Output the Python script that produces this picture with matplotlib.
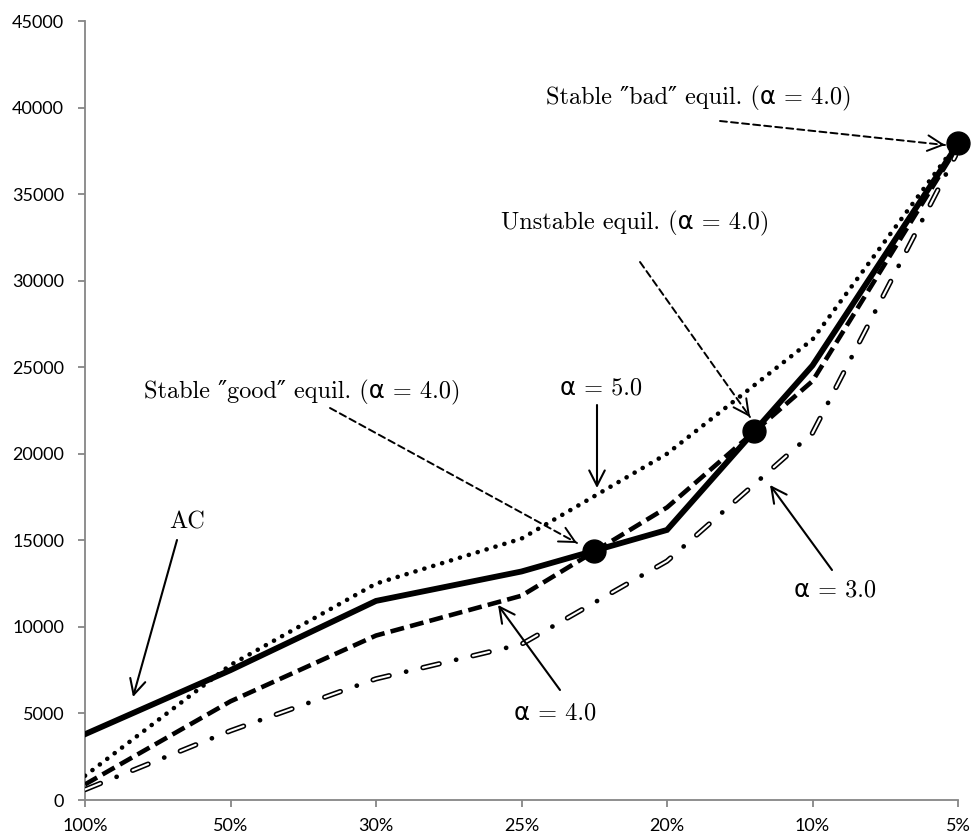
import numpy as np
import matplotlib
matplotlib.use("Agg")
import matplotlib.pyplot as plt

# category axis: share of population (left = everyone)
categories = ["100%", "50%", "30%", "25%", "20%", "10%", "5%"]

ac = [3800, 7500, 11500, 13200, 15600, 25100, 37900]
alpha5 = [1400, 7800, 12500, 15100, 20000, 26600, 38000]
alpha4 = [900, 5700, 9500, 11800, 16900, 24200, 37800]
alpha3 = [600, 4000, 7000, 9000, 13800, 21200, 37500]

# equilibrium points (category position, value)
eq_pos = [3.5, 4.6, 6.0]
eq_val = [14400, 21300, 37950]

yticks = list(range(0, 45001, 5000))

plt.rcParams["lines.scale_dashes"] = False

W, H = 972, 838
fig = plt.figure(figsize=(W / 100, H / 100), dpi=100)
ax = fig.add_axes([85 / W, 38 / H, 873 / W, 779 / H])

x = np.arange(len(categories))

ax.plot(x, ac, color="black", lw=4.2, solid_joinstyle="miter", zorder=3)
ax.plot(x, alpha5, color="black", lw=3.3, linestyle=(0, (0.1, 6.6)),
        dash_capstyle="round", zorder=3)
ax.plot(x, alpha4, color="black", lw=3.3, linestyle=(0, (10, 4.5)),
        dash_capstyle="butt", zorder=3)

# alpha = 3.0: hollow dashes with dots between
L, P = 12.0, 37.0
ax.plot(x, alpha3, color="black", lw=3.8, linestyle=(0, (L, P - L)),
        dash_capstyle="round", zorder=3)
ax.plot(x, alpha3, color="white", lw=1.5, linestyle=(0, (L, P - L)),
        dash_capstyle="round", zorder=3)
ax.plot(x, alpha3, color="black", lw=3.4,
        linestyle=(P - (L + (P - L) / 2), (0.1, P - 0.1)),
        dash_capstyle="round", zorder=3)

ax.plot(eq_pos, eq_val, "o", color="black", markersize=16.5, zorder=5,
        clip_on=False)

ax.set_xlim(0, len(categories) - 1)
ax.set_ylim(0, 45000)
ax.set_xticks(x)
ax.set_xticklabels(categories)
ax.set_yticks(yticks)
ax.set_yticklabels([str(v) for v in yticks])

for s in ["top", "right"]:
    ax.spines[s].set_visible(False)
for s in ["left", "bottom"]:
    ax.spines[s].set_color("#868686")
    ax.spines[s].set_linewidth(1.3)
ax.tick_params(axis="both", colors="#868686", length=5, width=1.3,
               labelcolor="black", labelsize=13)
ax.tick_params(axis="y", pad=10)
ax.tick_params(axis="x", pad=8)
for lab in ax.get_xticklabels() + ax.get_yticklabels():
    lab.set_family("Lato")

serif = ["cmr10", "DejaVu Sans"]


def px(p):
    return (p[0], H - p[1])


def label(text, pos):
    fig.text(pos[0] / W, 1 - pos[1] / H, text, family=serif, fontsize=17.5,
             ha="center", va="center")


def arrow(tail, tip, dashed=False):
    head = "->,head_length=0.55,head_width=0.28"
    if dashed:
        ax.annotate("", xy=px(tip), xycoords="figure pixels",
                    xytext=px(tail), textcoords="figure pixels",
                    arrowprops=dict(arrowstyle="-", lw=1.4, color="black",
                                    linestyle=(0, (5, 3)),
                                    shrinkA=0, shrinkB=0))
        d = np.array(tip, float) - np.array(tail, float)
        d = d / np.hypot(*d)
        back = np.array(tip) - d * 3
        ax.annotate("", xy=px(tip), xycoords="figure pixels",
                    xytext=px(back), textcoords="figure pixels",
                    arrowprops=dict(arrowstyle=head, lw=1.4, color="black",
                                    shrinkA=0, shrinkB=0, mutation_scale=20))
    else:
        ax.annotate("", xy=px(tip), xycoords="figure pixels",
                    xytext=px(tail), textcoords="figure pixels",
                    arrowprops=dict(arrowstyle=head, lw=1.5, color="black",
                                    shrinkA=0, shrinkB=0, mutation_scale=20))


label("Stable \u2033bad\u2033 equil. (α = 4.0)", (699, 98))
label("Unstable equil. (α = 4.0)", (635, 223))
label("Stable \u2033good\u2033 equil. (α = 4.0)", (302, 392))
label("α = 5.0", (601, 388))
label("AC", (187, 522))
label("α = 4.0", (555, 713))
label("α = 3.0", (835, 590))

arrow((720, 121), (945, 145), dashed=True)
arrow((640, 262), (750, 417), dashed=True)
arrow((330, 408), (577, 543), dashed=True)
arrow((597, 405), (597, 488))
arrow((177, 540), (133, 697))
arrow((560, 690), (498, 605))
arrow((832, 570), (770, 485))

fig.savefig("out.png", dpi=100)
